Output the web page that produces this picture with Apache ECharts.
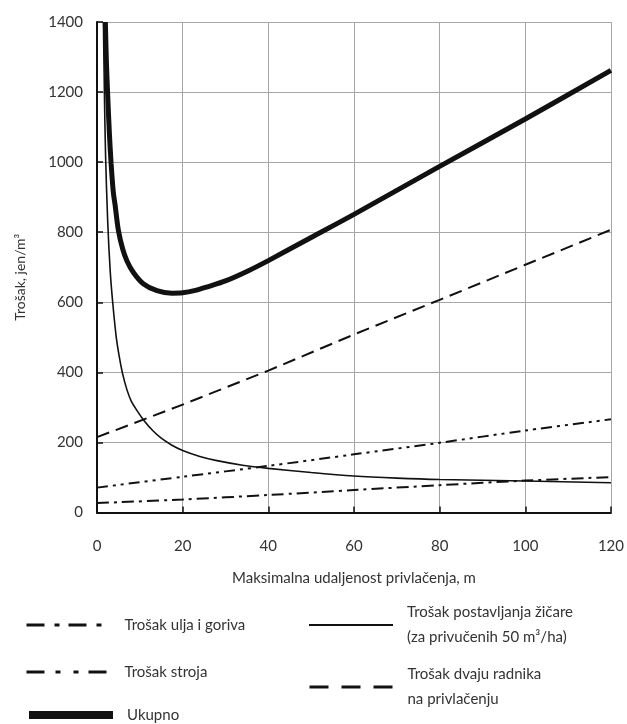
<!DOCTYPE html>
<html>
<head>
<meta charset="utf-8">
<script src="https://cdn.jsdelivr.net/npm/echarts@6/dist/echarts.min.js"></script>
<style>
  html, body { margin: 0; padding: 0; background: #fff; }
  #chart { width: 627px; height: 724px; }
</style>
</head>
<body>
<div id="chart"></div>
<script>
// Skidding distance (m) for the straight-line cost components
const distanceLinear = [0, 20, 40, 60, 80, 100, 120];
// Cost of two workers on skidding (jen/m³)
const workerCost = [215, 308, 405, 508, 607, 707, 807];
// Machine cost
const machineCost = [71, 102, 133, 166, 199, 234, 266];
// Oil and fuel cost
const fuelCost = [27, 37, 50, 64, 78, 91, 101];

// Cable crane installation cost (50 m³/ha skidded)
const cableDistance = [1.5, 1.75, 2.0, 2.5, 3.1, 3.7, 4.5, 5.2, 6, 7, 8, 9.5, 11, 13, 15, 17.5, 20, 24, 28, 34, 40, 50, 60, 70, 80, 100, 120];
const cableCost = [1400, 1180, 1020, 830, 686, 595, 500, 445, 395, 350, 318, 288, 262, 234, 212, 192, 177, 160, 148, 135, 126, 114, 104, 98, 94, 90, 85];

// Total cost
const totalDistance = [1.95, 2.2, 2.5, 2.9, 3.3, 3.8, 4.2, 5.0, 6.0, 7.0, 8.5, 10.8, 14, 17.5, 20, 23, 26, 30, 35, 40, 50, 60, 80, 100, 120];
const totalCost = [1400, 1285, 1190, 1080, 995, 915, 880, 805, 752, 718, 685, 653, 633, 626, 627, 634, 645, 661, 688, 719, 785, 851, 988, 1123, 1262];

// Axis ticks
const xTicks = { min: 0, max: 120, interval: 20 };
const yTicks = { min: 0, max: 1400, interval: 200 };

const NAME_FUEL = 'Trošak ulja i goriva';
const NAME_MACHINE = 'Trošak stroja';
const NAME_TOTAL = 'Ukupno';
const NAME_CABLE = 'Trošak postavljanja žičare\n(za privučenih 50 m³/ha)';
const NAME_WORKERS = 'Trošak dvaju radnika\nna privlačenju';

const pairs = (xs, ys) => xs.map((x, i) => [x, ys[i]]);

const FONT = 'Lato, "Open Sans", sans-serif';
const INK = '#111';
const TEXT = '#333';

function legendBox(name, left, top, lineStyle, multiLine) {
  return {
    data: [{ name: name, lineStyle: lineStyle }],
    left: left,
    top: top,
    orient: 'vertical',
    padding: 0,
    itemWidth: 84,
    itemHeight: 20,
    selectedMode: false,
    itemStyle: { opacity: 0 },
    textStyle: {
      fontFamily: FONT,
      fontSize: 15,
      color: TEXT,
      lineHeight: multiLine ? 25 : 20,
      padding: multiLine ? [25, 0, 0, 9] : [0, 0, 0, 9]
    }
  };
}

const chart = echarts.init(document.getElementById('chart'), null, { renderer: 'canvas' });

chart.setOption({
  animation: false,
  backgroundColor: '#fff',
  grid: { left: 97, right: 14.5, top: 22, bottom: 211.5, containLabel: false },
  xAxis: {
    type: 'value',
    min: xTicks.min,
    max: xTicks.max,
    interval: xTicks.interval,
    name: 'Maksimalna udaljenost privlačenja, m',
    nameLocation: 'middle',
    nameGap: 58,
    nameTextStyle: { fontFamily: FONT, fontSize: 15, color: TEXT },
    axisLine: { lineStyle: { color: INK, width: 2 } },
    axisTick: { inside: true, length: 6, lineStyle: { color: INK, width: 1.5 } },
    axisLabel: { margin: 26, fontFamily: FONT, fontSize: 15, color: TEXT, formatter: v => String(v) },
    splitLine: { show: true, lineStyle: { color: '#a6a6a6', width: 1 } }
  },
  yAxis: {
    type: 'value',
    min: yTicks.min,
    max: yTicks.max,
    interval: yTicks.interval,
    name: 'Trošak, jen/m³',
    nameLocation: 'middle',
    nameGap: 70,
    nameTextStyle: { fontFamily: FONT, fontSize: 14, color: TEXT, padding: [0, 20, 0, 0] },
    axisLine: { show: true, lineStyle: { color: INK, width: 2 } },
    axisTick: { show: true, inside: true, length: 6, lineStyle: { color: INK, width: 1.5 } },
    axisLabel: { margin: 14, fontFamily: FONT, fontSize: 15, color: TEXT, formatter: v => String(v) },
    splitLine: { show: true, lineStyle: { color: '#a6a6a6', width: 1 } }
  },
  legend: [
    legendBox(NAME_FUEL, 25, 615, { width: 3, type: [18, 10, 5, 9] }, false),
    legendBox(NAME_MACHINE, 25, 662, { width: 3, type: [18, 11, 5, 13, 5, 10] }, false),
    legendBox(NAME_TOTAL, 25, 705, { width: 8, type: 'solid' }, false),
    legendBox(NAME_CABLE, 308, 587.5, { width: 2, type: 'solid' }, true),
    legendBox(NAME_WORKERS, 308, 649.5, { width: 3, type: [19, 13] }, true)
  ],
  series: [
    {
      name: NAME_WORKERS,
      type: 'line',
      data: pairs(distanceLinear, workerCost),
      symbol: 'none',
      lineStyle: { color: INK, width: 2, type: [13, 7] }
    },
    {
      name: NAME_MACHINE,
      type: 'line',
      data: pairs(distanceLinear, machineCost),
      symbol: 'none',
      smooth: 0.3,
      lineStyle: { color: INK, width: 2, type: [11, 5, 3, 5, 3, 5] }
    },
    {
      name: NAME_FUEL,
      type: 'line',
      data: pairs(distanceLinear, fuelCost),
      symbol: 'none',
      smooth: 0.3,
      lineStyle: { color: INK, width: 2, type: [12, 5, 3, 5] }
    },
    {
      name: NAME_CABLE,
      type: 'line',
      data: pairs(cableDistance, cableCost),
      symbol: 'none',
      smooth: 0.3,
      lineStyle: { color: INK, width: 1.6, type: 'solid' }
    },
    {
      name: NAME_TOTAL,
      type: 'line',
      data: pairs(totalDistance, totalCost),
      symbol: 'none',
      smooth: 0.3,
      lineStyle: { color: INK, width: 5, type: 'solid' }
    }
  ]
});
</script>
</body>
</html>
